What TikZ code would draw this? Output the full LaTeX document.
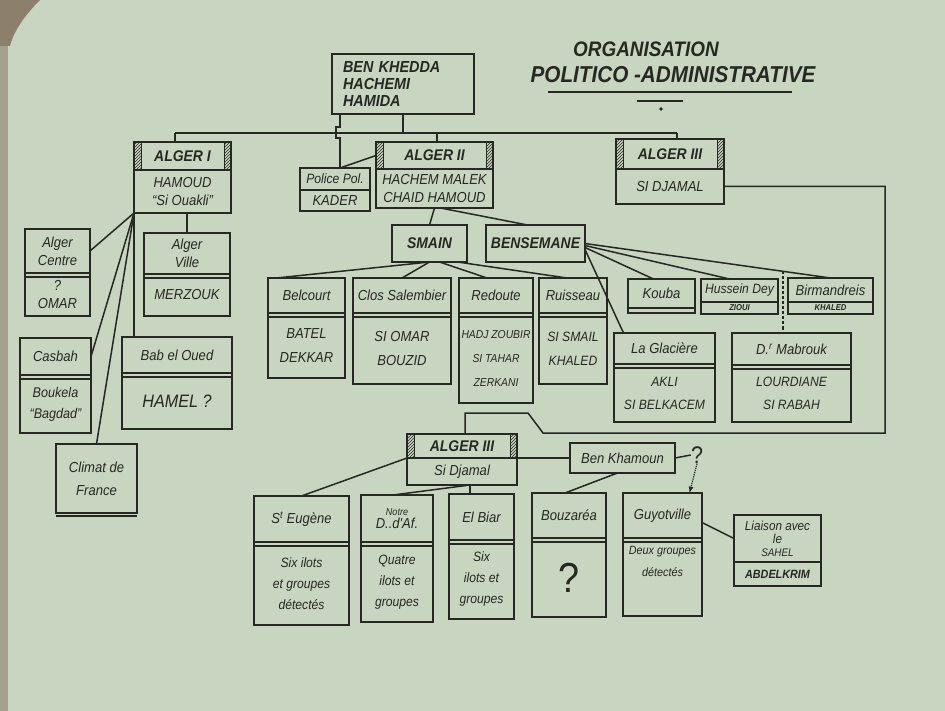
\documentclass[tikz,border=0pt]{standalone}
\usepackage{fontspec}
\newfontfamily\hand{Liberation Sans}[FakeStretch=0.9]
\usepackage{tikz}
\usetikzlibrary{positioning,patterns}
\definecolor{paper}{RGB}{200,213,193}
\definecolor{ink}{RGB}{38,40,34}
\definecolor{table}{RGB}{140,128,108}
\tikzstyle{box} = [draw=ink, line width=1.5pt, inner sep=0pt, outer sep=0pt, align=center, text=ink, font=\hand\itshape\fontsize{14.5}{18}\selectfont]
\tikzstyle{boldtxt} = [font=\hand\itshape\bfseries\fontsize{15.5}{18}\selectfont]
\tikzstyle{smalltxt} = [font=\hand\itshape\fontsize{13.5}{15}\selectfont]
\tikzstyle{tinytxt} = [font=\hand\itshape\bfseries\fontsize{8.5}{9}\selectfont]
\tikzstyle{lowtxt} = [font=\hand\itshape\fontsize{13.5}{21}\selectfont]
\tikzstyle{titletxt} = [text=ink, inner sep=0pt, font=\hand\itshape\bfseries\fontsize{23}{28}\selectfont]
\tikzstyle{link} = [draw=ink, line width=1.5pt]
\tikzstyle{qedge} = [draw=ink, line width=1.2pt, densely dotted, >=latex, ->]
\tikzstyle{hatch} = [draw=ink, line width=0.8pt, pattern=north east lines, pattern color=ink]

\begin{document}
\begin{tikzpicture}[x=1pt, y=-1pt]

% sheet ==================================
\fill[paper] (0,0) rectangle (945,711);
\fill[table] (0,0) -- (40,0) .. controls (26,14) and (14,30) .. (10,46) -- (0,46) -- cycle;
\fill[table!60!paper] (0,46) rectangle (8,711);
\useasboundingbox (0,0) rectangle (945,711);

% title
\node[titletxt, font=\hand\itshape\bfseries\fontsize{21}{26}\selectfont] (org) at (646,49) {ORGANISATION};
\node[titletxt] (pol) at (673,75) {POLITICO -ADMINISTRATIVE};
\draw[ink, line width=2.5pt] (548,92) -- (792,92);
\draw[ink, line width=2pt] (637,101) -- (683,101);
\fill[ink] (661,109) circle[radius=1.8pt];

% heads ==================================
\node[box, boldtxt, font=\hand\itshape\bfseries\fontsize{16}{17}\selectfont, align=left, text width=120pt, minimum width=142pt, minimum height=60pt] (top) at (403,84) {BEN KHEDDA\\HACHEMI\\HAMIDA};

\node[box, boldtxt, minimum width=97pt, minimum height=28pt] (a1h) at (182.5,156) {ALGER I};
\node[box, below=0pt of a1h, minimum width=97pt, minimum height=43pt] (a1b) {HAMOUD\\“Si Ouakli”};

\node[box, boldtxt, minimum width=117pt, minimum height=27pt] (a2h) at (434.5,155.5) {ALGER II};
\node[box, below=0pt of a2h, minimum width=117pt, minimum height=39pt] (a2b) {HACHEM MALEK\\CHAID HAMOUD};

\node[box, smalltxt, minimum width=70pt, minimum height=22pt] (polh) at (335,179) {Police Pol.};
\node[box, below=0pt of polh, minimum width=70pt, minimum height=21pt] (polb) {KADER};

\node[box, boldtxt, minimum width=108pt, minimum height=30pt] (a3h) at (670,154) {ALGER III};
\node[box, below=0pt of a3h, minimum width=108pt, minimum height=35pt] (a3b) {SI DJAMAL};

% alger I ================================
\node[box, minimum width=65pt, minimum height=44pt] (acenh) at (57.5,251) {Alger\\Centre};
\node[box, below=0pt of acenh, minimum width=65pt, minimum height=43pt] (acenb) {?\\OMAR};
\node[box, minimum width=86pt, minimum height=41pt] (avilh) at (187,253.5) {Alger\\Ville};
\node[box, below=0pt of avilh, minimum width=86pt, minimum height=42pt] (avilb) {MERZOUK};
\node[box, minimum width=71pt, minimum height=37pt] (cash) at (55.5,356.5) {Casbah};
\node[box, below=0pt of cash, minimum width=71pt, minimum height=58pt, font=\hand\itshape\fontsize{14}{21}\selectfont] (casb) {Boukela\\“Bagdad”};
\node[box, minimum width=110pt, minimum height=36pt] (babh) at (177,355) {Bab el Oued};
\node[box, below=0pt of babh, minimum width=110pt, minimum height=56pt, font=\hand\itshape\fontsize{18}{20}\selectfont] (babb) {HAMEL ?};
\node[box, minimum width=81pt, minimum height=69pt, font=\hand\itshape\fontsize{14.5}{23}\selectfont] (clim) at (96.5,478.5) {Climat de\\France};

% alger II ===============================
\node[box, boldtxt, minimum width=75pt, minimum height=37pt] (smain) at (429.5,243.5) {SMAIN};
\node[box, boldtxt, minimum width=99pt, minimum height=37pt] (bens) at (535.5,243.5) {BENSEMANE};

\node[box, minimum width=77pt, minimum height=35pt] (belh) at (306.5,295.5) {Belcourt};
\node[box, below=0pt of belh, minimum width=77pt, minimum height=65pt, font=\hand\itshape\fontsize{14.5}{24}\selectfont] (belb) {BATEL\\DEKKAR};
\node[box, minimum width=98pt, minimum height=35pt] (closh) at (402,295.5) {Clos Salembier};
\node[box, below=0pt of closh, minimum width=98pt, minimum height=71pt, font=\hand\itshape\fontsize{14.5}{24}\selectfont] (closb) {SI OMAR\\BOUZID};
\node[box, minimum width=74pt, minimum height=35pt] (redh) at (496,295.5) {Redoute};
\node[box, below=0pt of redh, minimum width=74pt, minimum height=90pt, font=\hand\itshape\fontsize{11.5}{24}\selectfont] (redb) {HADJ ZOUBIR\\SI TAHAR\\ZERKANI};
\node[box, minimum width=68pt, minimum height=35pt] (ruih) at (573,295.5) {Ruisseau};
\node[box, below=0pt of ruih, minimum width=68pt, minimum height=71pt, font=\hand\itshape\fontsize{13.5}{24}\selectfont] (ruib) {SI SMAIL\\KHALED};

\node[box, minimum width=67pt, minimum height=29pt] (kouh) at (661.5,293.5) {Kouba};
\node[box, below=0pt of kouh, minimum width=67pt, minimum height=5pt] (koub) {};
\node[box, smalltxt, minimum width=77pt, minimum height=23pt] (hush) at (739.5,290.5) {Hussein Dey};
\node[box, tinytxt, below=0pt of hush, minimum width=77pt, minimum height=12pt] (husb) {ZIOUI};
\node[box, minimum width=85pt, minimum height=24pt] (birh) at (830.5,290) {Birmandreis};
\node[box, tinytxt, below=0pt of birh, minimum width=85pt, minimum height=12pt] (birb) {KHALED};

\node[box, minimum width=101pt, minimum height=31pt] (glah) at (664.5,348.5) {La Glacière};
\node[box, below=0pt of glah, minimum width=101pt, minimum height=58pt, font=\hand\itshape\fontsize{13.5}{23}\selectfont] (glab) {AKLI\\SI BELKACEM};
\node[box, minimum width=119pt, minimum height=32pt] (mabh) at (791.5,349) {D.\textsuperscript{r} Mabrouk};
\node[box, below=0pt of mabh, minimum width=119pt, minimum height=57pt, font=\hand\itshape\fontsize{13.5}{23}\selectfont] (mabb) {LOURDIANE\\SI RABAH};

% alger III ==============================
\node[box, boldtxt, minimum width=110pt, minimum height=24pt] (g3h) at (462,446) {ALGER III};
\node[box, below=0pt of g3h, minimum width=110pt, minimum height=27pt] (g3b) {Si Djamal};
\node[box, minimum width=105pt, minimum height=30pt] (khm) at (622.5,458) {Ben Khamoun};
\node[text=ink, inner sep=0pt, font=\hand\fontsize{24}{24}\selectfont] (qk) at (697,455) {?};

\node[box, minimum width=95pt, minimum height=46pt] (eugh) at (301.5,519) {S\textsuperscript{t} Eugène};
\node[box, lowtxt, below=0pt of eugh, minimum width=95pt, minimum height=83pt] (eugb) {Six ilots\\et groupes\\détectés};
\node[box, minimum width=72pt, minimum height=47pt, font=\hand\itshape\fontsize{14.5}{13}\selectfont] (ndh) at (397,518.5) {{\fontsize{10}{10}\selectfont Notre}\\D..d'Af.};
\node[box, lowtxt, below=0pt of ndh, minimum width=72pt, minimum height=80pt] (ndb) {Quatre\\ilots et\\groupes};
\node[box, minimum width=65pt, minimum height=46pt] (biarh) at (481.5,517) {El Biar};
\node[box, lowtxt, below=0pt of biarh, minimum width=65pt, minimum height=79pt] (biarb) {Six\\ilots et\\groupes};
\node[box, minimum width=74pt, minimum height=45pt] (bouzh) at (569,515.5) {Bouzaréa};
\node[box, below=0pt of bouzh, minimum width=74pt, minimum height=79pt, font=\hand\fontsize{42}{42}\selectfont] (bouzb) {?};
\node[box, minimum width=79pt, minimum height=45pt] (guyh) at (662.5,515.5) {Guyotville};
\node[box, below=0pt of guyh, minimum width=79pt, minimum height=78pt, font=\hand\itshape\fontsize{12}{22}\selectfont] (guyb) {Deux groupes\\détectés\\[10pt]};
\node[box, minimum width=87pt, minimum height=47pt, font=\hand\itshape\fontsize{13}{13}\selectfont] (liah) at (777.5,538.5) {Liaison avec\\le\\{\fontsize{11}{12}\selectfont SAHEL}};
\node[box, below=0pt of liah, minimum width=87pt, minimum height=24pt, font=\hand\itshape\bfseries\fontsize{12}{13}\selectfont] (liab) {ABDELKRIM};

% frames ================================
\foreach \h in {a1h, a2h, a3h, g3h} {
  \path[hatch] (\h.north west) rectangle ([xshift=7pt]\h.south west);
  \path[hatch] (\h.north east) rectangle ([xshift=-7pt]\h.south east);
}
\foreach \h in {acenh, avilh, cash, babh, belh, closh, redh, ruih, glah, mabh, eugh, ndh, biarh, bouzh, guyh}
  \path[link] ([yshift=-4pt]\h.south west) -- ([yshift=-4pt]\h.south east);
\path[link] ([yshift=-3pt]clim.south west) -- ([yshift=-3pt]clim.south east);

%edges
\coordinate (busL) at (175,133);
\coordinate (busM) at (437,133);
\coordinate (busR) at (677,133);
\coordinate (polj) at (340,114);
\path[link] (top.south) -- (top.south |- busL);
\path[link] (busL) -- (busR);
\path[link] (busL) -- (a1h.north -| busL);
\path[link] (busM) -- (a2h.north -| busM);
\path[link] (busR) -- (a3h.north -| busR);
\path[link] (polj) -- ++(0,13) -- ++(-4,0) -- ++(0,11) -- ++(4,0) -- (polh.north -| polj);
\path[link] (polh.north -| polj) -- (a2h.west);

\path[link] (a1b.south west) -- (acenh.east);
\path[link] (a1b.south west) -- (cash.east);
\path[link] (a1b.south west) -- (clim.north);
\path[link] (a1b.south west) -- (babh.north -| a1b.south west);
\path[link] (avilh.north |- a1b.south) -- (avilh.north);

\path[link] (a2b.south) -- (smain.north);
\path[link] ([xshift=6pt]a2b.south) -- ([xshift=-8pt]bens.north);
\path[link] (smain.south) -- ([xshift=-30pt]belh.north);
\path[link] (smain.south) -- (closh.north);
\path[link] ([xshift=10pt]smain.south) -- ([xshift=-9pt]redh.north);
\path[link] ([xshift=28pt]smain.south) -- ([xshift=-6pt]ruih.north);

\coordinate (mabj) at (783,271.5);
\path[link] ([yshift=-4pt]bens.east) -- ([xshift=-8pt]kouh.north);
\path[link] ([yshift=-2pt]bens.east) -- ([xshift=-10pt]hush.north);
\path[link] (bens.east) -- (birh.north);
\path[link] ([yshift=-6pt]bens.east) -- ([xshift=-41pt]glah.north);
\path[link, densely dashed] (mabj) -- (mabh.north -| mabj);

\coordinate (lpA) at (885,186.5);
\coordinate (lpB) at (885,433);
\coordinate (lpC) at (543,433);
\coordinate (lpD) at (528,413);
\coordinate (lpE) at (465,413);
\path[link] (a3b.east) -- (lpA) -- (lpB) -- (lpC) -- (lpD) -- (lpE) -- (g3h.north -| lpE);

\coordinate (g3j) at ([xshift=8pt]g3b.south);
\path[link] (g3h.south west) -- (eugh.north);
\path[link] (g3j) -- (biarh.north -| g3j);
\path[link] (g3j) -- ([xshift=-4pt]ndh.north);
\path[link] (g3b.north east) -- (khm.west);
\path[link] ([xshift=-5pt]khm.south) -- ([xshift=-4pt]bouzh.north);
\path[link] (khm.east) -- (qk.west);
\path[qedge] (qk.south) -- ([xshift=27pt]guyh.north);
\path[link] ([yshift=-7pt]guyh.east) -- (liah.west);

\end{tikzpicture}
\end{document}
